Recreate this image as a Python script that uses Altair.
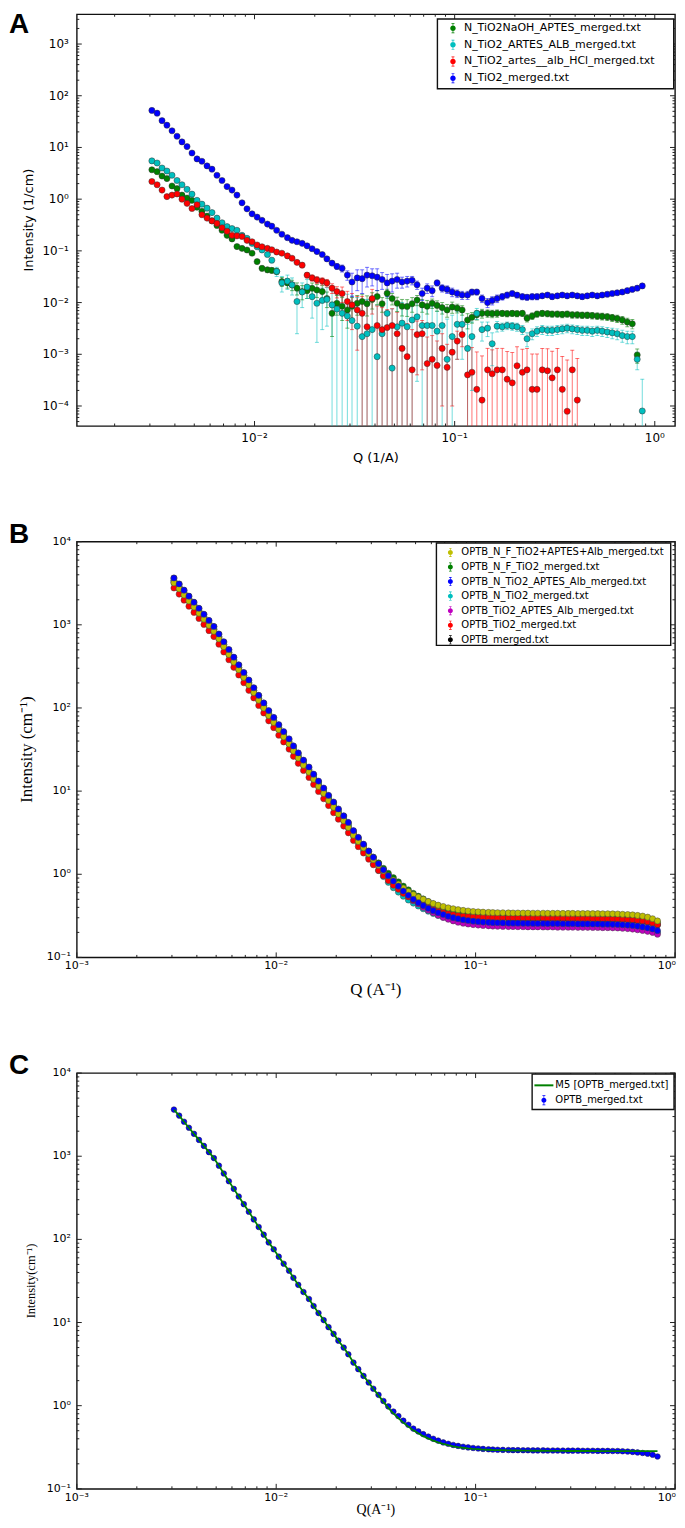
import altair as alt
import pandas as pd
import numpy as np

# ---------------- shared Q grid (1/A) ----------------
Q = [0.00307, 0.00326, 0.00345, 0.00365, 0.00387, 0.00410, 0.00434, 0.00460, 0.00487, 0.00516,
     0.00546, 0.00579, 0.00613, 0.00649, 0.00688, 0.00729, 0.00772, 0.00817, 0.00866, 0.00917,
     0.00972, 0.0103, 0.0109, 0.0116, 0.0122, 0.0129, 0.0137, 0.0146, 0.0154, 0.0163,
     0.0173, 0.0183, 0.0194, 0.0205, 0.0218, 0.0230, 0.0244, 0.0258, 0.0274, 0.0291,
     0.0307, 0.0326, 0.0345, 0.0365, 0.0387, 0.0410, 0.0434, 0.0460, 0.0487, 0.0516,
     0.0546, 0.0579, 0.0613, 0.0649, 0.0688, 0.0729, 0.0772, 0.0817, 0.0866, 0.0917,
     0.0972, 0.103, 0.109, 0.116, 0.122, 0.129, 0.137, 0.146, 0.154, 0.163,
     0.173, 0.183, 0.194, 0.205, 0.218, 0.230, 0.244, 0.258, 0.274, 0.291,
     0.307, 0.326, 0.345, 0.365, 0.387, 0.410, 0.434, 0.460, 0.487, 0.516,
     0.546, 0.579, 0.613, 0.649, 0.688, 0.729, 0.772, 0.817, 0.866]

# ---------------- Panel A ----------------
A_NAMES = ["N_TiO2NaOH_APTES_merged.txt", "N_TiO2_ARTES_ALB_merged.txt",
           "N_TiO2_artes__alb_HCl_merged.txt", "N_TiO2_merged.txt"]
A_COLORS = ["#008000", "#00bfbf", "#ff0000", "#0000ff"]

a_green = [3.7, 3.4, 2.8, 2.5, 1.8, 1.6, 1.2, 1.05, 0.95, 0.70,
           0.58, 0.47, 0.38, 0.31, 0.25, 0.20, 0.17, 0.121, 0.112, 0.104,
           0.09, 0.062, 0.046, 0.043, 0.042, 0.04, 0.0255, 0.024, 0.022, 0.019,
           0.0163, 0.017, 0.0189, 0.0175, 0.0163, 0.012, 0.0062, 0.0097, 0.0085, 0.0072,
           0.0085, 0.0097, 0.0105, 0.0095, 0.0115, 0.0131, 0.0095, 0.0151, 0.012, 0.0097,
           0.0085, 0.0084, 0.0095, 0.0112, 0.009, 0.0085, 0.0097, 0.0088, 0.008, 0.0072,
           0.0082, 0.0078, 0.0072, 0.0046, 0.0052, 0.0058, 0.0062, 0.0062, 0.0061, 0.0062,
           0.0062, 0.0061, 0.0062, 0.0061, 0.0062, 0.005, 0.0055, 0.006, 0.0062, 0.0061,
           0.006, 0.006, 0.0059, 0.006, 0.0058, 0.0058, 0.0057, 0.0057, 0.0056, 0.0055,
           0.0054, 0.0053, 0.0051, 0.0049, 0.0046, 0.0042, 0.0039, 0.00097, None]
a_green_err = [0.15, 0.13, 0.11, 0.09, 0.07, 0.06, 0.05, 0.04, 0.03, 0.025,
               0.022, 0.018, 0.015, 0.012, 0.01, 0.009, 0.008, 0.007, 0.006, 0.006,
               0.006, 0.005, 0.005, 0.005, 0.005, 0.005, 0.005, 0.005, 0.005, 0.005,
               0.005, 0.005, 0.005, 0.005, 0.005, 0.004, 0.004, 0.004, 0.004, 0.004,
               0.004, 0.004, 0.004, 0.004, 0.004, 0.004, 0.003, 0.003, 0.003, 0.003,
               0.003, 0.003, 0.003, 0.0025, 0.0025, 0.0025, 0.002, 0.002, 0.002, 0.002,
               0.002, 0.0015, 0.0015, 0.0015, 0.0012, 0.0012, 0.0012, 0.001, 0.001, 0.001,
               0.0008, 0.0008, 0.0008, 0.0008, 0.0008, 0.0008, 0.0008, 0.0008, 0.0008, 0.0008,
               0.0008, 0.0008, 0.0008, 0.0008, 0.0008, 0.0008, 0.0008, 0.0008, 0.0008, 0.0008,
               0.0008, 0.0008, 0.0008, 0.0008, 0.0008, 0.0008, 0.0008, 0.0003, None]

a_cyan = [5.5, 5.0, 4.0, 3.5, 2.9, 2.3, 1.9, 1.55, 1.25, 0.95,
          0.8, 0.67, 0.55, 0.43, 0.35, 0.295, 0.27, 0.25, 0.2, 0.175,
          0.14, 0.12, 0.104, 0.085, 0.066, 0.04, 0.024, 0.026, 0.022, 0.0105,
          0.016, 0.02, 0.013, 0.0097, 0.011, 0.0115, 0.009, 0.0075, 0.0062, 0.0055,
          0.0045, 0.0035, 0.0022, 0.0025, 0.003, 0.0009, 0.0025, 0.0062, 0.00054, 0.0034,
          0.004, 0.0034, 0.0046, 0.0053, 0.0036, 0.0036, 0.0036, 0.0028, 0.0036, 0.0008,
          0.0022, 0.0038, 0.0038, 0.0013, 0.0022, 0.0062, 0.003, 0.0032, 0.0016, 0.0035,
          0.0034, 0.0036, 0.0035, 0.0034, 0.003, 0.002, 0.0025, 0.0028, 0.003, 0.0029,
          0.0029, 0.003, 0.0031, 0.0032, 0.0031, 0.003, 0.0029, 0.0029, 0.0028, 0.0029,
          0.0028, 0.0027, 0.0026, 0.0025, 0.0023, 0.0022, 0.0022, 0.0008, 0.00008]
a_cyan_err = [0.2, 0.18, 0.15, 0.12, 0.1, 0.08, 0.06, 0.05, 0.04, 0.03,
              0.025, 0.02, 0.018, 0.015, 0.012, 0.01, 0.009, 0.008, 0.007, 0.007,
              0.007, 0.007, 0.007, 0.007, 0.007, 0.008, 0.008, 0.008, 0.008, 0.008,
              0.008, 0.008, 0.008, 0.008, 0.008, 0.008, 0.009, 0.009, 0.009, 0.009,
              0.009, 0.009, 0.008, 0.009, 0.008, 0.008, 0.007, 0.007, 0.007, 0.006,
              0.006, 0.006, 0.006, 0.005, 0.005, 0.005, 0.005, 0.004, 0.004, 0.004,
              0.0035, 0.003, 0.003, 0.0025, 0.002, 0.0015, 0.0012, 0.001, 0.001, 0.0008,
              0.0006, 0.0006, 0.0006, 0.0006, 0.0006, 0.0006, 0.0006, 0.0006, 0.0006, 0.0006,
              0.0006, 0.0006, 0.0006, 0.0006, 0.0006, 0.0006, 0.0006, 0.0006, 0.0006, 0.0006,
              0.0006, 0.0006, 0.0006, 0.0006, 0.0006, 0.0006, 0.0006, 0.0003, 0.00025]

a_red = [2.2, 1.9, 1.5, 1.12, 1.2, 1.26, 1.0, 0.83, 0.66, 0.78,
         0.5, 0.43, 0.38, 0.34, 0.28, 0.24, 0.2, 0.195, 0.19, 0.16,
         0.15, 0.13, 0.12, 0.112, 0.105, 0.095, 0.09, 0.08, 0.072, 0.06,
         0.053, 0.034, 0.03, 0.0275, 0.026, 0.024, 0.019, 0.0163, 0.015, 0.0105,
         0.009, 0.0072, 0.0062, 0.0034, 0.012, 0.0036, 0.003, 0.0033, 0.0036, 0.0025,
         0.0013, 0.0009, 0.0005, 0.0024, 0.0025, 0.00066, 0.0008, 0.00061, 0.0013, 0.00056,
         0.0011, 0.0018, 0.0024, 0.0004, 0.00045, 0.00021, 0.00013, 0.0005, 0.00042, 0.0005,
         0.0005, 0.00033, 0.00028, 0.0006, 0.00045, 0.0005, 0.00021, 0.00021, 0.0005, 0.00048,
         0.00035, 0.0005, 0.00021, 0.000079, 0.0005, 0.00013, None, None, None, None,
         None, None, None, None, None, None, None, None, None]
a_red_err = [0.1, 0.09, 0.07, 0.05, 0.05, 0.05, 0.04, 0.035, 0.03, 0.03,
             0.022, 0.02, 0.018, 0.015, 0.013, 0.012, 0.01, 0.01, 0.009, 0.008,
             0.007, 0.007, 0.006, 0.006, 0.006, 0.005, 0.005, 0.005, 0.005, 0.005,
             0.005, 0.004, 0.004, 0.004, 0.004, 0.004, 0.004, 0.004, 0.005, 0.006,
             0.006, 0.006, 0.007, 0.006, 0.006, 0.005, 0.005, 0.004, 0.004, 0.004,
             0.003, 0.003, 0.0025, 0.002, 0.002, 0.0015, 0.0015, 0.0012, 0.0012, 0.001,
             0.001, 0.001, 0.001, 0.0009, 0.0009, 0.0009, 0.0008, 0.0008, 0.0008, 0.0008,
             0.0008, 0.0008, 0.0008, 0.0008, 0.0008, 0.0008, 0.0008, 0.0008, 0.0008, 0.0008,
             0.0008, 0.0008, 0.0007, 0.0007, 0.0007, 0.0007, None, None, None, None,
             None, None, None, None, None, None, None, None, None]

a_blue = [52, 46, 33, 27, 21, 16.5, 12.8, 10.4, 7.8, 6.0,
          5.4, 4.4, 3.8, 2.9, 2.3, 1.75, 1.5, 1.2, 0.85, 0.65,
          0.52, 0.45, 0.39, 0.33, 0.30, 0.25, 0.21, 0.18, 0.16, 0.15,
          0.14, 0.125, 0.11, 0.097, 0.085, 0.07, 0.058, 0.05, 0.046, 0.034,
          0.025, 0.030, 0.029, 0.034, 0.033, 0.031, 0.028, 0.024, 0.026, 0.028,
          0.025, 0.026, 0.027, 0.022, 0.015, 0.019, 0.017, 0.024, 0.019, 0.018,
          0.016, 0.015, 0.014, 0.014, 0.016, 0.016, 0.012, 0.010, 0.011, 0.012,
          0.013, 0.014, 0.015, 0.014, 0.013, 0.0127, 0.013, 0.013, 0.0135, 0.014,
          0.013, 0.0135, 0.014, 0.0135, 0.014, 0.0135, 0.013, 0.0135, 0.014, 0.0135,
          0.014, 0.0145, 0.015, 0.0155, 0.016, 0.017, 0.018, 0.019, 0.021]
a_blue_err = [1.5, 1.3, 1.0, 0.8, 0.6, 0.5, 0.4, 0.3, 0.25, 0.2,
              0.15, 0.12, 0.09, 0.07, 0.06, 0.05, 0.04, 0.03, 0.025, 0.02,
              0.016, 0.013, 0.011, 0.01, 0.009, 0.008, 0.007, 0.006, 0.006, 0.005,
              0.005, 0.005, 0.005, 0.005, 0.005, 0.005, 0.006, 0.006, 0.007, 0.007,
              0.012, 0.013, 0.014, 0.014, 0.012, 0.014, 0.010, 0.011, 0.010, 0.009,
              0.006, 0.006, 0.005, 0.004, 0.004, 0.004, 0.004, 0.003, 0.003, 0.003,
              0.003, 0.0025, 0.0025, 0.0025, 0.002, 0.002, 0.002, 0.002, 0.002, 0.002,
              0.0018, 0.0018, 0.0017, 0.0017, 0.0017, 0.0016, 0.0016, 0.0016, 0.0015, 0.0015,
              0.0015, 0.0015, 0.0015, 0.0015, 0.0015, 0.0015, 0.0015, 0.0015, 0.0015, 0.0015,
              0.0015, 0.0015, 0.0015, 0.0015, 0.0015, 0.0016, 0.0016, 0.0017, 0.0018]

# ---------------- Panel B ----------------
B_NAMES = ["OPTB_N_F_TiO2+APTES+Alb_merged.txt", "OPTB_N_F_TiO2_merged.txt",
           "OPTB_N_TiO2_APTES_Alb_merged.txt", "OPTB_N_TiO2_merged.txt",
           "OPTB_TiO2_APTES_Alb_merged.txt", "OPTB_TiO2_merged.txt", "OPTB_merged.txt"]
B_COLORS = ["#bfbf00", "#008000", "#0000ff", "#00bfbf", "#bf00bf", "#ff0000", "#000000"]

b_yellow = [3200, 2710, 2290, 1940, 1640, 1380, 1170, 985, 836, 678,
            546, 440, 356, 289, 233, 189, 153, 124, 100, 81,
            67, 55, 45, 37, 30.4, 25.0, 20.5, 16.9, 13.9, 11.4,
            9.4, 7.7, 6.4, 5.3, 4.4, 3.65, 2.95, 2.48, 2.08, 1.76,
            1.5, 1.28, 1.1, 0.96, 0.85, 0.76, 0.68, 0.62, 0.57, 0.53,
            0.50, 0.47, 0.445, 0.425, 0.41, 0.395, 0.385, 0.375, 0.368, 0.362,
            0.357, 0.353, 0.35, 0.348, 0.346, 0.345, 0.344, 0.343, 0.342, 0.342,
            0.341, 0.341, 0.340, 0.340, 0.340, 0.339, 0.339, 0.339, 0.338, 0.338,
            0.338, 0.337, 0.337, 0.337, 0.336, 0.336, 0.335, 0.335, 0.334, 0.333,
            0.33, 0.328, 0.325, 0.32, 0.314, 0.305, 0.292, 0.275]
b_green = [3390, 2860, 2420, 2050, 1730, 1460, 1240, 1040, 884, 716,
           577, 465, 377, 305, 246, 200, 162, 131, 106, 86,
           71, 58, 47, 39, 32, 26.4, 21.7, 17.9, 14.7, 12.1,
           10.0, 8.2, 6.8, 5.65, 4.7, 3.9, 3.15, 2.65, 2.22, 1.87,
           1.6, 1.37, 1.18, 1.03, 0.91, 0.81, 0.72, 0.65, 0.59, 0.545,
           0.505, 0.47, 0.44, 0.415, 0.395, 0.378, 0.365, 0.355, 0.346, 0.34,
           0.335, 0.331, 0.328, 0.326, 0.324, 0.323, 0.322, 0.321, 0.32, 0.32,
           0.319, 0.319, 0.318, 0.318, 0.318, 0.317, 0.317, 0.317, 0.316, 0.316,
           0.316, 0.315, 0.315, 0.315, 0.314, 0.314, 0.313, 0.313, 0.312, 0.311,
           0.309, 0.307, 0.304, 0.30, 0.295, 0.288, 0.278, 0.262]
b_blue = [3660, 3100, 2610, 2210, 1870, 1580, 1340, 1130, 955, 775,
          625, 505, 408, 330, 267, 217, 175, 142, 115, 93,
          77, 63, 52, 42.5, 35, 28.8, 23.6, 19.5, 16.0, 13.2,
          10.9, 8.9, 7.4, 6.1, 5.05, 4.2, 3.35, 2.78, 2.3, 1.9,
          1.6, 1.34, 1.13, 0.96, 0.83, 0.72, 0.63, 0.56, 0.5, 0.455,
          0.42, 0.39, 0.365, 0.345, 0.328, 0.313, 0.301, 0.292, 0.284, 0.278,
          0.273, 0.269, 0.266, 0.264, 0.262, 0.261, 0.26, 0.259, 0.258, 0.258,
          0.257, 0.257, 0.256, 0.256, 0.256, 0.255, 0.255, 0.255, 0.254, 0.254,
          0.254, 0.253, 0.253, 0.253, 0.252, 0.252, 0.251, 0.251, 0.25, 0.249,
          0.247, 0.245, 0.242, 0.238, 0.233, 0.227, 0.22, 0.21]
b_cyan = [3390, 2860, 2420, 2050, 1730, 1460, 1240, 1040, 884, 716,
          577, 465, 377, 305, 246, 200, 162, 131, 106, 86,
          71, 58, 47, 39, 32, 26.4, 21.7, 17.9, 14.7, 12.1,
          10.0, 8.2, 6.8, 5.6, 4.6, 3.8, 2.9, 2.38, 1.95, 1.6,
          1.33, 1.11, 0.94, 0.8, 0.69, 0.61, 0.545, 0.49, 0.45, 0.415,
          0.385, 0.36, 0.338, 0.32, 0.305, 0.293, 0.284, 0.277, 0.271, 0.266,
          0.262, 0.259, 0.256, 0.254, 0.252, 0.251, 0.25, 0.249, 0.248, 0.248,
          0.247, 0.247, 0.246, 0.246, 0.246, 0.245, 0.245, 0.245, 0.244, 0.244,
          0.244, 0.243, 0.243, 0.243, 0.242, 0.242, 0.241, 0.241, 0.24, 0.239,
          0.237, 0.235, 0.232, 0.228, 0.223, 0.217, 0.21, 0.20]
b_magenta = [3200, 2710, 2290, 1940, 1640, 1380, 1170, 985, 836, 678,
             546, 440, 356, 289, 233, 189, 153, 124, 100, 81,
             67, 55, 45, 37, 30.4, 25.0, 20.5, 16.9, 13.9, 11.4,
             9.4, 7.7, 6.4, 5.3, 4.4, 3.6, 3.05, 2.55, 2.12, 1.77,
             1.49, 1.25, 1.06, 0.91, 0.79, 0.69, 0.61, 0.54, 0.48, 0.44,
             0.40, 0.37, 0.345, 0.322, 0.303, 0.288, 0.275, 0.265, 0.258, 0.252,
             0.248, 0.245, 0.242, 0.24, 0.238, 0.237, 0.236, 0.235, 0.235, 0.234,
             0.234, 0.233, 0.233, 0.233, 0.232, 0.232, 0.232, 0.231, 0.231, 0.231,
             0.231, 0.23, 0.23, 0.23, 0.229, 0.229, 0.228, 0.228, 0.227, 0.226,
             0.224, 0.222, 0.219, 0.215, 0.211, 0.206, 0.2, 0.19]
b_red = [2770, 2340, 1980, 1670, 1410, 1190, 1010, 851, 722, 585,
         471, 380, 308, 249, 201, 163, 132, 107, 87, 70,
         58, 47, 39, 32, 26.2, 21.6, 17.7, 14.6, 12.0, 9.9,
         8.1, 6.7, 5.5, 4.6, 3.8, 3.15, 2.55, 2.15, 1.8, 1.52,
         1.3, 1.11, 0.96, 0.84, 0.74, 0.66, 0.59, 0.535, 0.49, 0.455,
         0.425, 0.4, 0.378, 0.36, 0.346, 0.335, 0.326, 0.319, 0.314, 0.31,
         0.307, 0.305, 0.303, 0.302, 0.301, 0.30, 0.30, 0.299, 0.299, 0.298,
         0.298, 0.298, 0.297, 0.297, 0.297, 0.296, 0.296, 0.296, 0.295, 0.295,
         0.295, 0.294, 0.294, 0.294, 0.293, 0.293, 0.292, 0.292, 0.291, 0.29,
         0.288, 0.286, 0.283, 0.279, 0.274, 0.268, 0.26, 0.248]
b_black = [3640, 3080, 2600, 2200, 1860, 1570, 1330, 1120, 950, 770,
           620, 500, 405, 328, 265, 215, 174, 141, 114, 92,
           76, 62, 51, 42, 34.5, 28.4, 23.3, 19.2, 15.8, 13.0,
           10.7, 8.8, 7.3, 6.05, 5.0, 4.15, 3.3, 2.75, 2.28, 1.9,
           1.6, 1.35, 1.14, 0.98, 0.85, 0.75, 0.66, 0.59, 0.53, 0.49,
           0.455, 0.425, 0.40, 0.38, 0.362, 0.348, 0.337, 0.328, 0.321, 0.315,
           0.31, 0.306, 0.302, 0.299, 0.297, 0.295, 0.294, 0.293, 0.292, 0.292,
           0.291, 0.291, 0.290, 0.290, 0.290, 0.289, 0.289, 0.289, 0.288, 0.288,
           0.288, 0.288, 0.287, 0.287, 0.287, 0.286, 0.286, 0.286, 0.285, 0.285,
           0.283, 0.281, 0.278, 0.274, 0.27, 0.265, 0.257, 0.245]

# ---------------- Panel C ----------------
C_NAMES = ["M5 [OPTB_merged.txt]", "OPTB_merged.txt"]
C_COLORS = ["#008000", "#0000ff"]
c_data = b_black
c_fit = [3640, 3080, 2600, 2200, 1860, 1570, 1330, 1120, 950, 770,
         620, 500, 405, 328, 265, 215, 174, 141, 114, 92,
         76, 62, 51, 42, 34.5, 28.4, 23.3, 19.2, 15.8, 13.0,
         10.7, 8.8, 7.3, 6.05, 5.0, 4.15, 3.3, 2.75, 2.28, 1.9,
         1.6, 1.33, 1.11, 0.94, 0.81, 0.71, 0.625, 0.56, 0.505, 0.465,
         0.43, 0.405, 0.38, 0.362, 0.347, 0.335, 0.325, 0.318, 0.312, 0.307,
         0.303, 0.30, 0.297, 0.295, 0.293, 0.292, 0.291, 0.29, 0.289, 0.289,
         0.288, 0.288, 0.287, 0.287, 0.287, 0.286, 0.286, 0.286, 0.286, 0.285,
         0.285, 0.285, 0.285, 0.285, 0.285, 0.284, 0.284, 0.284, 0.284, 0.284,
         0.284, 0.284, 0.284, 0.284, 0.284, 0.284, 0.284, 0.284]

for arr in (a_green, a_green_err, a_cyan, a_cyan_err, a_red, a_red_err, a_blue, a_blue_err):
    assert len(arr) == len(Q), len(arr)
for arr in (b_yellow, b_green, b_blue, b_cyan, b_magenta, b_red, b_black, c_fit):
    assert len(arr) == 98, len(arr)

# ---------------- ticks and tick labels ----------------
A_X_MAJOR = [0.01, 0.1, 1.0]
A_X_LABELS = ["10⁻²", "10⁻¹", "10⁰"]
A_Y_MAJOR = [1e-4, 1e-3, 1e-2, 1e-1, 1.0, 10.0, 100.0, 1000.0]
A_Y_LABELS = ["10⁻⁴", "10⁻³", "10⁻²", "10⁻¹", "10⁰", "10¹", "10²", "10³"]
BC_X_MAJOR = [0.001, 0.01, 0.1, 1.0]
BC_X_LABELS = ["10⁻³", "10⁻²", "10⁻¹", "10⁰"]
BC_Y_MAJOR = [0.1, 1.0, 10.0, 100.0, 1000.0, 10000.0]
BC_Y_LABELS = ["10⁻¹", "10⁰", "10¹", "10²", "10³", "10⁴"]


def minor_ticks(lo, hi):
    out = []
    for e in range(-6, 5):
        for m in range(2, 10):
            v = m * 10.0 ** e
            if lo < v < hi:
                out.append(v)
    return out


def frame_ticks(xs, ys, xmaj, xmin, ymaj, ymin, W, H, major=5, minor=2.5):
    layers = []
    for vals, L in ((ymaj, major), (ymin, minor)):
        r = alt.Chart(pd.DataFrame({"v": vals})).mark_rule(color="#222", strokeWidth=1)
        yy = alt.Y("v:Q", scale=ys, axis=None)
        layers.append(r.encode(y=yy, x=alt.value(0), x2=alt.value(L)))
        layers.append(r.encode(y=yy, x=alt.value(W - L), x2=alt.value(W)))
    for vals, L in ((xmaj, major), (xmin, minor)):
        r = alt.Chart(pd.DataFrame({"v": vals})).mark_rule(color="#222", strokeWidth=1)
        xx = alt.X("v:Q", scale=xs, axis=None)
        layers.append(r.encode(x=xx, y=alt.value(H - L), y2=alt.value(H)))
        layers.append(r.encode(x=xx, y=alt.value(0), y2=alt.value(L)))
    return layers


def axis_text(xs, ys, W, H, xmaj, xlab, ymaj, ylab, lfont, lsize, ylab_x, xlab_y,
              xtitle, ytitle, tfont, xts, yts, xtitle_y, ytitle_x, last_right=False):
    ly = alt.Chart(pd.DataFrame({"v": ymaj, "t": ylab})).mark_text(
        align="right", baseline="middle", font=lfont, fontSize=lsize, color="black").encode(
        y=alt.Y("v:Q", scale=ys, axis=None), x=alt.value(ylab_x), text="t:N")
    n = len(xmaj) - 1 if last_right else len(xmaj)
    lx = alt.Chart(pd.DataFrame({"v": xmaj[:n], "t": xlab[:n]})).mark_text(
        align="center", baseline="top", font=lfont, fontSize=lsize, color="black").encode(
        x=alt.X("v:Q", scale=xs, axis=None), y=alt.value(xlab_y), text="t:N")
    out = [ly, lx]
    if last_right:
        out.append(alt.Chart(pd.DataFrame({"v": xmaj[n:], "t": xlab[n:]})).mark_text(
            align="right", baseline="top", dx=1, font=lfont, fontSize=lsize, color="black").encode(
            x=alt.X("v:Q", scale=xs, axis=None), y=alt.value(xlab_y), text="t:N"))
    tx = alt.Chart(pd.DataFrame({"t": [xtitle]})).mark_text(
        align="center", baseline="middle", font=tfont, fontSize=xts, color="black").encode(
        x=alt.value(W / 2), y=alt.value(xtitle_y), text="t:N")
    ty = alt.Chart(pd.DataFrame({"t": [ytitle]})).mark_text(
        align="center", baseline="middle", angle=270, font=tfont, fontSize=yts, color="black").encode(
        x=alt.value(ytitle_x), y=alt.value(H / 2), text="t:N")
    return out + [tx, ty]


def dot_path(r):
    return (f"M{-r},0A{r},{r},0,1,1,{r},0A{r},{r},0,1,1,{-r},0Z "
            "M-0.07,-1L0.07,-1L0.07,1L-0.07,1Z "
            "M-0.3,-1L0.3,-1L0.3,-0.86L-0.3,-0.86Z "
            "M-0.3,0.86L0.3,0.86L0.3,1L-0.3,1Z")


def legend_layers(names, colors, box, first, step, sym_x, txt_x, font_size, sym_size, shapes):
    x0, y0, x1, y1 = box
    frame = alt.Chart(pd.DataFrame({"k": [0]})).mark_rect(
        fill="white", stroke="#111", strokeWidth=1.4).encode(
        x=alt.value(x0), x2=alt.value(x1), y=alt.value(y0), y2=alt.value(y1))
    d = pd.DataFrame({"s": names, "c": colors, "py": [y0 + first + k * step for k in range(len(names))],
                      "shape": shapes})
    layers = [frame]
    pts = d[d["shape"] != "line"]
    if len(pts):
        layers.append(alt.Chart(pts).mark_point(filled=True, opacity=1, size=sym_size, strokeWidth=0).encode(
            x=alt.value(sym_x), y=alt.Y("py:Q", scale=None, axis=None),
            color=alt.Color("c:N", scale=None), shape=alt.Shape("shape:N", scale=None)))
    ln = d[d["shape"] == "line"]
    if len(ln):
        layers.append(alt.Chart(ln).mark_rule(strokeWidth=2).encode(
            x=alt.value(sym_x - 9.5), x2=alt.value(sym_x + 9.5), y=alt.Y("py:Q", scale=None, axis=None),
            color=alt.Color("c:N", scale=None)))
    layers.append(alt.Chart(d).mark_text(align="left", baseline="middle", font="DejaVu Sans",
                                         fontSize=font_size, color="black").encode(
        x=alt.value(txt_x), y=alt.Y("py:Q", scale=None, axis=None), text="s:N"))
    return layers


def letter(t, dy):
    return alt.Chart(pd.DataFrame({"t": [t]})).mark_text(
        align="left", baseline="top", font="Liberation Sans", fontSize=28,
        fontWeight="bold", color="black").encode(text="t:N", x=alt.value(-68), y=alt.value(dy))


def long_df(names, colors, series, errs, qs):
    rows = []
    for name, col, vals, err in zip(names, colors, series, errs):
        for k, v in enumerate(vals):
            if v is None:
                continue
            e = err[k] if err is not None and err[k] is not None else 0.0
            rows.append({"s": name, "c": col, "q": qs[k], "i": v,
                         "lo": max(v - e, 1e-9), "hi": v + e})
    return pd.DataFrame(rows)


# ================= Panel A =================
WA, HA = 600, 413
xA = alt.Scale(type="log", domain=[0.001294, 1.262], nice=False)
yA = alt.Scale(type="log", domain=[4.1e-5, 3770], nice=False)
dfA = long_df(A_NAMES, A_COLORS, [a_green, a_cyan, a_red, a_blue],
              [a_green_err, a_cyan_err, a_red_err, a_blue_err], Q)
XA = alt.X("q:Q", scale=xA, axis=None)
colA = alt.Color("c:N", scale=None)

errA = alt.Chart(dfA).mark_rule(clip=True, strokeWidth=1, opacity=0.55).encode(
    x=XA, y=alt.Y("lo:Q", scale=yA, axis=None), y2="hi:Q", color=colA)
capA1 = alt.Chart(dfA).mark_tick(clip=True, orient="horizontal", size=4, thickness=1, opacity=0.55).encode(
    x=XA, y=alt.Y("hi:Q", scale=yA, axis=None), color=colA)
capA2 = alt.Chart(dfA).mark_tick(clip=True, orient="horizontal", size=4, thickness=1, opacity=0.55).encode(
    x=XA, y=alt.Y("lo:Q", scale=yA, axis=None), color=colA)
ptsA = alt.Chart(dfA).mark_circle(clip=True, size=38, opacity=1, stroke="#333", strokeWidth=0.5).encode(
    x=XA, y=alt.Y("i:Q", scale=yA, axis=None), color=colA)
panelA = alt.layer(
    errA, capA1, capA2, ptsA,
    *frame_ticks(xA, yA, A_X_MAJOR, minor_ticks(0.001294, 1.262), A_Y_MAJOR,
                 minor_ticks(4.1e-5, 3770), WA, HA),
    *axis_text(xA, yA, WA, HA, A_X_MAJOR, A_X_LABELS, A_Y_MAJOR, A_Y_LABELS,
               "DejaVu Sans", 12, -8, HA + 7, "Q (1/A)", "Intensity (1/cm)",
               "DejaVu Sans", 13, 13, HA + 32, -48),
    *legend_layers(A_NAMES, A_COLORS, (361.7, 4.7, 598.7, 74.7), 9.3, 16.7, 377.3, 388.3,
                   11, 100, [dot_path(0.55)] * 4),
    letter("A", -3)).properties(width=WA, height=HA)

# ================= Panel B =================
WB, HB = 600, 417
xB = alt.Scale(type="log", domain=[0.001, 1.0], nice=False)
yB = alt.Scale(type="log", domain=[0.1, 10000], nice=False)
order_B = [6, 1, 3, 4, 5, 0, 2]  # draw order: black first ... blue on top
B_SERIES = [b_yellow, b_green, b_blue, b_cyan, b_magenta, b_red, b_black]
dfB = long_df([B_NAMES[k] for k in order_B], [B_COLORS[k] for k in order_B],
              [B_SERIES[k] for k in order_B], [None] * 7, Q[:98])
ptsB = alt.Chart(dfB).mark_circle(clip=True, size=38, opacity=1, stroke="#444", strokeWidth=0.5).encode(
    x=alt.X("q:Q", scale=xB, axis=None), y=alt.Y("i:Q", scale=yB, axis=None),
    color=alt.Color("c:N", scale=None))
panelB = alt.layer(
    ptsB,
    *frame_ticks(xB, yB, BC_X_MAJOR, minor_ticks(0.001, 1.0), BC_Y_MAJOR,
                 minor_ticks(0.1, 10000), WB, HB),
    *axis_text(xB, yB, WB, HB, BC_X_MAJOR, BC_X_LABELS, BC_Y_MAJOR, BC_Y_LABELS,
               "DejaVu Sans", 11, -6, HB + 3, "Q (A⁻¹)", "Intensity (cm⁻¹)",
               "Liberation Serif", 17, 17, HB + 33, -50, last_right=True),
    *legend_layers(B_NAMES, B_COLORS, (360.7, 1.3, 595.7, 104), 9.5, 14.6, 374.7, 385.7,
                   10, 81, [dot_path(0.55)] * 7),
    letter("B", -21)).properties(width=WB, height=HB)

# ================= Panel C =================
WC, HC = 600, 417
dfC_pts = pd.DataFrame({"s": C_NAMES[1], "c": C_COLORS[1], "q": Q[:98], "i": c_data})
dfC_fit = pd.DataFrame({"s": C_NAMES[0], "c": C_COLORS[0], "q": Q[:98], "i": c_fit})
ptsC = alt.Chart(dfC_pts).mark_circle(clip=True, size=32, opacity=1, stroke="#223", strokeWidth=0.5).encode(
    x=alt.X("q:Q", scale=xB, axis=None), y=alt.Y("i:Q", scale=yB, axis=None),
    color=alt.Color("c:N", scale=None))
fitC = alt.Chart(dfC_fit).mark_line(clip=True, strokeWidth=1.8).encode(
    x=alt.X("q:Q", scale=xB, axis=None), y=alt.Y("i:Q", scale=yB, axis=None),
    color=alt.Color("c:N", scale=None))
panelC = alt.layer(
    ptsC, fitC,
    *frame_ticks(xB, yB, BC_X_MAJOR, minor_ticks(0.001, 1.0), BC_Y_MAJOR,
                 minor_ticks(0.1, 10000), WC, HC),
    *axis_text(xB, yB, WC, HC, BC_X_MAJOR, BC_X_LABELS, BC_Y_MAJOR, BC_Y_LABELS,
               "DejaVu Sans", 11, -6, HC + 3, "Q(A⁻¹)", "Intensity(cm⁻¹)",
               "Liberation Serif", 14, 12.5, HC + 21, -46, last_right=True),
    *legend_layers(C_NAMES, C_COLORS, (456.7, 1.0, 599.0, 36.6), 11.3, 15.0, 468.5, 480.0,
                   10, 100, ["line", dot_path(0.5)]),
    letter("C", -21)).properties(width=WC, height=HC)

chart = alt.vconcat(panelA, panelB, panelC, spacing=116, bounds="flush").properties(
    padding=0).configure_view(stroke="#111", strokeWidth=1.4)

chart.save("out.html", embed_options={"renderer": "svg", "actions": False})
